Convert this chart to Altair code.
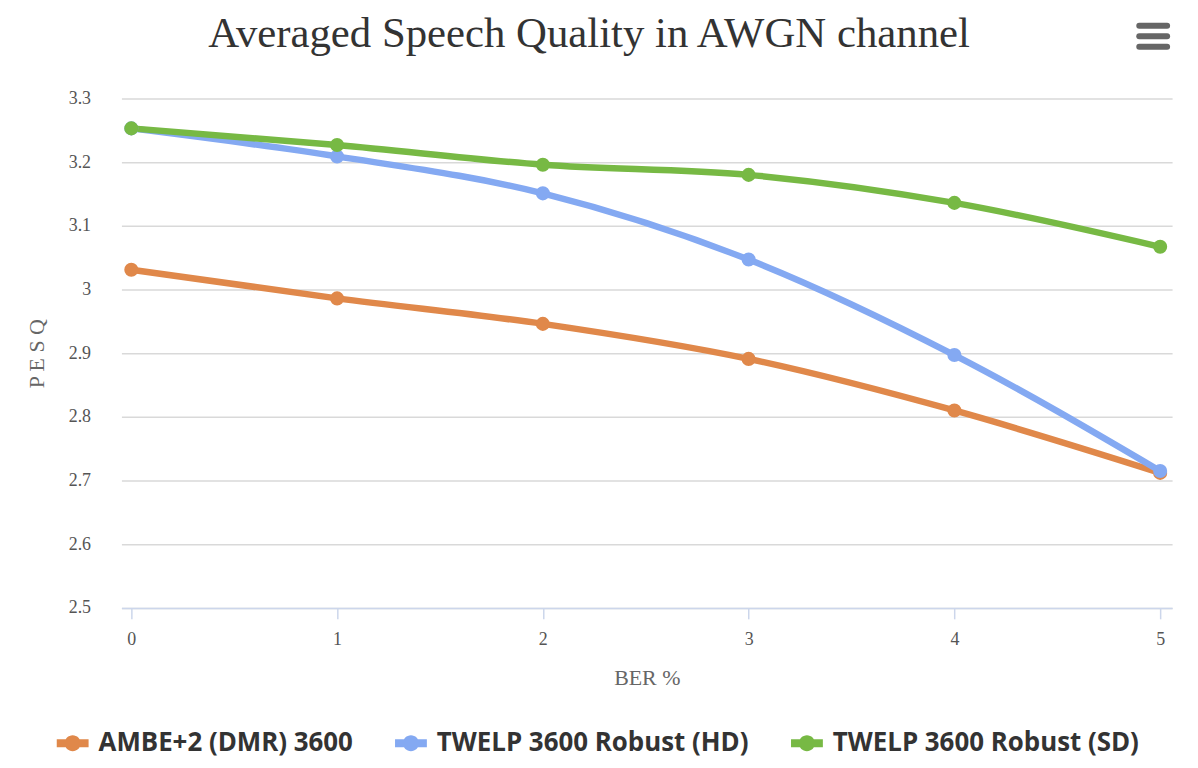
import altair as alt
import pandas as pd

ber = [0, 1, 2, 3, 4, 5]
series_names = ["AMBE+2 (DMR) 3600", "TWELP 3600 Robust (HD)", "TWELP 3600 Robust (SD)"]
ambe = [3.031, 2.986, 2.946, 2.891, 2.810, 2.712]
twelp_hd = [3.253, 3.209, 3.151, 3.047, 2.897, 2.715]
twelp_sd = [3.253, 3.227, 3.196, 3.180, 3.136, 3.067]
colors = ["#E0884A", "#84A9F2", "#77B944"]
y_ticks = [2.5, 2.6, 2.7, 2.8, 2.9, 3.0, 3.1, 3.2, 3.3]
x_ticks = [0, 1, 2, 3, 4, 5]
title_text = "Averaged Speech Quality in AWGN channel"

rows = []
for name, vals in zip(series_names, [ambe, twelp_hd, twelp_sd]):
    for b, v in zip(ber, vals):
        rows.append({"BER": b, "PESQ": v, "series": name})
df = pd.DataFrame(rows)

SERIF = "Liberation Serif"
SANS = "Open Sans"

symbol_path = ("M-1,-0.25H1V0.25H-1Z "
               "M-0.5,0A0.5,0.5 0 1,1 0.5,0A0.5,0.5 0 1,1 -0.5,0Z")

color_scale = alt.Scale(domain=series_names, range=colors)

x_enc = alt.X("BER:Q",
              scale=alt.Scale(domain=[-0.048, 5.058], nice=False, zero=False),
              axis=alt.Axis(values=x_ticks, title="BER %", grid=False,
                            labelFont=SERIF, labelFontSize=18, labelColor="#555555",
                            titleFont=SERIF, titleFontSize=22, titleColor="#666666",
                            titleFontWeight="normal", titlePadding=19,
                            domainColor="#ccd6eb", domainWidth=1.5,
                            tickColor="#ccd6eb", tickSize=11, tickWidth=1.5,
                            labelPadding=12, format="d"))
y_enc = alt.Y("PESQ:Q",
              scale=alt.Scale(domain=[2.5, 3.3], nice=False, zero=False),
              axis=alt.Axis(values=y_ticks, title="P E S Q", format=".1~f",
                            labelFont=SERIF, labelFontSize=18, labelColor="#555555",
                            titleFont=SERIF, titleFontSize=22, titleColor="#666666",
                            titleFontWeight="normal", titlePadding=20,
                            domain=False, ticks=False, labelPadding=31,
                            gridColor="#d9d9d9", gridWidth=1.5))
color_enc = alt.Color("series:N", scale=color_scale,
                      legend=alt.Legend(title=None, orient="none", direction="horizontal",
                                        legendX=-65, legendY=632,
                                        symbolType=symbol_path, symbolSize=1024,
                                        symbolStrokeWidth=0, symbolOpacity=1,
                                        labelFont=SANS, labelFontSize=26,
                                        labelFontWeight="bold", labelColor="#333333",
                                        labelOffset=10, columnPadding=42, padding=0,
                                        labelLimit=600))

base = alt.Chart(df)
lines = base.mark_line(strokeWidth=6.5, interpolate="monotone").encode(
    x=x_enc, y=y_enc, color=color_enc)
points = base.mark_circle(size=200, opacity=1).encode(
    x="BER:Q", y="PESQ:Q", color=alt.Color("series:N", scale=color_scale, legend=None))

one = pd.DataFrame({"k": [0]})
title_layer = alt.Chart(one).mark_text(
    text=title_text, font=SERIF, fontSize=43, color="#333333",
    align="center", baseline="alphabetic").encode(
    x=alt.value(470), y=alt.value(-52))

icon_layers = []
for yy in [-73, -62.5, -52]:
    icon_layers.append(
        alt.Chart(one).mark_rule(strokeWidth=6, strokeCap="round", color="#666666").encode(
            x=alt.value(1023), x2=alt.value(1051), y=alt.value(yy)))

chart = alt.layer(lines, points, title_layer, *icon_layers).properties(
    width=1056, height=512,
    autosize=alt.AutoSizeParams(type="none"),
    padding={"left": 114, "top": 89, "right": 18, "bottom": 158},
).configure_view(stroke=None)

chart.save("out.html", embed_options={"renderer": "svg", "actions": False})
